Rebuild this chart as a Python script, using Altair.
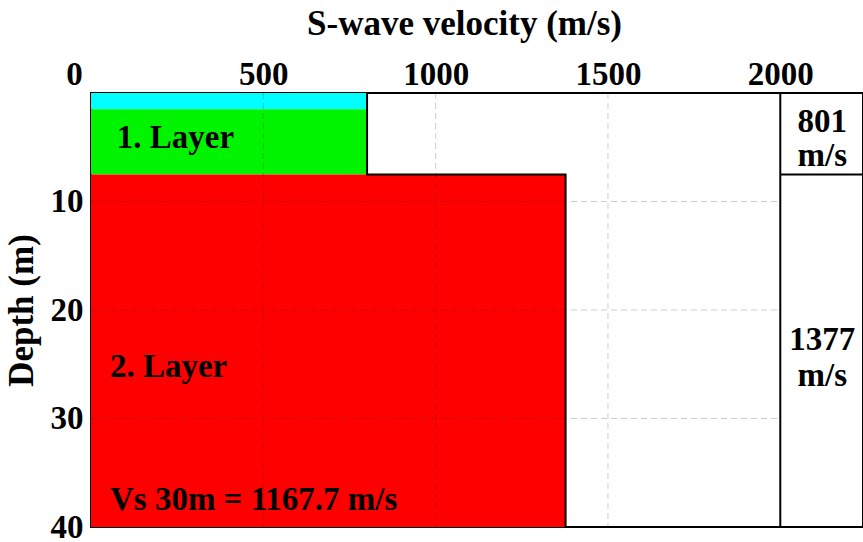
import altair as alt
import pandas as pd

# ---- data ----
layer_top = [0.0, 1.5, 7.5]
layer_bottom = [1.5, 7.5, 40.0]
layer_vs = [801, 801, 1377]
layer_colors = ["#00FFFF", "#00F400", "#FF0000"]

x_ticks = [0, 500, 1000, 1500, 2000]
y_ticks = [10, 20, 30, 40]
grid_x = [500, 1000, 1500]
grid_y = [10, 20, 30]

inner_labels = ["1. Layer", "2. Layer", "Vs 30m = 1167.7 m/s"]
inner_x = [75, 55, 55]
inner_y = [5.1, 26.2, 38.4]

side_labels = ["801", "m/s", "1377", "m/s"]
side_x = [2122, 2122, 2122, 2122]
side_y = [3.6, 6.7, 23.7, 27.0]

X_MAX = 2000
X_EDGE = 2240
DEPTH_MAX = 40

FONT = "Liberation Serif"

# ---- tables ----
rects = pd.DataFrame({"x0": [0] * 3, "x1": layer_vs, "top": layer_top,
                      "bottom": layer_bottom, "color": layer_colors})

outline = pd.DataFrame({
    "x0": [layer_vs[1], layer_vs[1], layer_vs[2], layer_vs[2]],
    "top": [layer_top[0], layer_top[2], layer_top[2], layer_bottom[2]],
    "i": [0, 1, 2, 3],
})

gx = pd.DataFrame({"x0": grid_x, "top": [0] * 3, "bottom": [DEPTH_MAX] * 3})
gy = pd.DataFrame({"top": grid_y, "x0": [0] * 3, "x1": [X_MAX] * 3})

col_v = pd.DataFrame({"x0": [X_MAX], "top": [0], "bottom": [DEPTH_MAX]})
col_h = pd.DataFrame({"top": [layer_top[2]], "x0": [X_MAX], "x1": [X_EDGE]})

inner = pd.DataFrame({"t": inner_labels, "x0": inner_x, "top": inner_y})
side = pd.DataFrame({"t": side_labels, "x0": side_x, "top": side_y})

xs = alt.Scale(domain=[0, X_EDGE], nice=False, zero=False)
ys = alt.Scale(domain=[0, DEPTH_MAX], nice=False, zero=False, reverse=True)

x_axis = alt.Axis(
    orient="top", values=x_ticks, format="d", title="S-wave velocity (m/s)",
    titleX=373, titleY=-59, titleAlign="center", titleBaseline="alphabetic",
    titleFont=FONT, titleFontSize=35, titleFontWeight="bold", titleColor="black",
    labelFont=FONT, labelFontSize=33, labelFontWeight="bold", labelColor="black",
    labelBaseline="alphabetic", labelPadding=9, labelFlush=False,
    labelAlign="center",
    labelOffset={"condition": {"test": "datum.value === 0", "value": -17},
                 "value": 0},
    ticks=False, tickSize=0, domain=False, grid=False,
)
y_axis = alt.Axis(
    orient="left", values=y_ticks, format="d", title="Depth (m)",
    titleX=-59, titleY=217, titleAngle=270, titleAlign="center",
    titleBaseline="alphabetic",
    titleFont=FONT, titleFontSize=35, titleFontWeight="bold", titleColor="black",
    labelFont=FONT, labelFontSize=33, labelFontWeight="bold", labelColor="black",
    labelBaseline="middle", labelPadding=8, labelFlush=False,
    ticks=False, tickSize=0, domain=False, grid=False,
)

X = alt.X("x0:Q", scale=xs, axis=x_axis)
Y = alt.Y("top:Q", scale=ys, axis=y_axis)

base_rect = alt.Chart(rects).mark_rect().encode(
    x=X, x2="x1:Q", y=Y, y2="bottom:Q",
    color=alt.Color("color:N", scale=None),
)

grid_v = alt.Chart(gx).mark_rule(color="black", opacity=0.2, strokeWidth=1,
                                 strokeDash=[6, 4]).encode(
    x=X, y=Y, y2="bottom:Q")
grid_h = alt.Chart(gy).mark_rule(color="black", opacity=0.2, strokeWidth=1,
                                 strokeDash=[6, 4]).encode(
    y=Y, x=X, x2="x1:Q")

line = alt.Chart(outline).mark_line(color="black", strokeWidth=2).encode(
    x=X, y=Y, order="i:Q")

rule_v = alt.Chart(col_v).mark_rule(color="black", strokeWidth=2).encode(
    x=X, y=Y, y2="bottom:Q")
rule_h = alt.Chart(col_h).mark_rule(color="black", strokeWidth=2).encode(
    y=Y, x=X, x2="x1:Q")

txt_inner = alt.Chart(inner).mark_text(
    align="left", baseline="alphabetic", font=FONT, fontSize=33,
    fontWeight="bold", color="black").encode(x=X, y=Y, text="t:N")

txt_side = alt.Chart(side).mark_text(
    align="center", baseline="alphabetic", font=FONT, fontSize=33,
    fontWeight="bold", color="black").encode(x=X, y=Y, text="t:N")

chart = alt.layer(
    base_rect, grid_v, grid_h, line, rule_v, rule_h, txt_inner, txt_side
).properties(
    width=772, height=434,
    autosize=alt.AutoSizeParams(type="none"),
    padding={"left": 91, "top": 93, "right": 0, "bottom": 15},
    background="white",
).configure_view(stroke="black", strokeWidth=2)

chart.save("out.html", embed_options={"renderer": "svg", "actions": False})
